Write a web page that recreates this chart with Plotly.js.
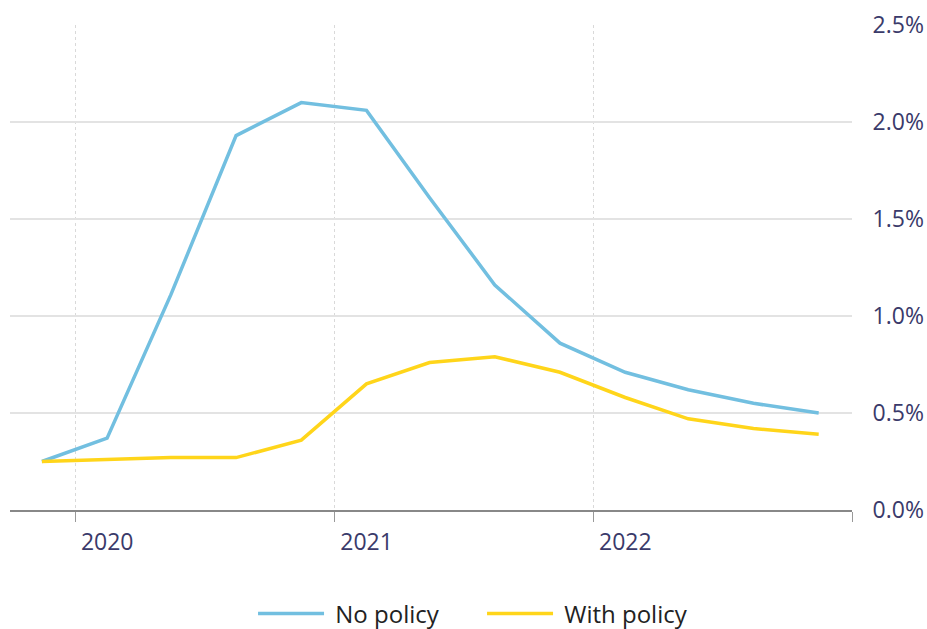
<!DOCTYPE html>
<html>
<head>
<meta charset="utf-8">
<script src="https://cdn.plot.ly/plotly-3.0.1.min.js"></script>
<style>html,body{margin:0;padding:0;background:#fff;}#chart{width:927px;height:629px;}</style>
</head>
<body>
<div id="chart"></div>
<script>
const dates = ['2019-11-15','2020-02-15','2020-05-15','2020-08-15','2020-11-15','2021-02-15','2021-05-15','2021-08-15','2021-11-15','2022-02-15','2022-05-15','2022-08-15','2022-11-15'];
const noPolicy = [0.25,0.37,1.11,1.93,2.10,2.06,1.61,1.16,0.86,0.71,0.62,0.55,0.50];
const withPolicy = [0.25,0.26,0.27,0.27,0.36,0.65,0.76,0.79,0.71,0.58,0.47,0.42,0.39];
const seriesNames = ['No policy', 'With policy'];
const xTickVals = ['2020-01-01','2021-01-01','2022-01-01','2023-01-01'];
const xTickText = ['2020','2021','2022',''];
const yTickVals = [0,0.5,1,1.5,2,2.5];
const yTickText = ['0.0%','0.5%','1.0%','1.5%','2.0%','2.5%'];

const traces = [
  {x: dates, y: noPolicy, name: '\u00a0' + seriesNames[0], type: 'scatter', mode: 'lines',
   line: {color: '#72bfe0', width: 3.5}},
  {x: dates, y: withPolicy, name: '\u00a0' + seriesNames[1], type: 'scatter', mode: 'lines',
   line: {color: '#ffd51a', width: 3.5}}
];
const layout = {
  width: 927, height: 629,
  margin: {l: 10, r: 75, t: 25, b: 119},
  paper_bgcolor: '#fff', plot_bgcolor: '#fff',
  font: {family: '"Open Sans", sans-serif', color: '#3a3a6a'},
  showlegend: true,
  legend: {orientation: 'h', x: 0.52, xanchor: 'center', xref: 'container',
           y: 0.024, yanchor: 'middle', yref: 'container',
           font: {size: 24, color: '#222'}, itemwidth: 66, entrywidth: 148},
  xaxis: {type: 'date', range: ['2019-10-01','2023-01-01'],
          tickmode: 'array', tickvals: xTickVals, ticktext: xTickText,
          showgrid: true, gridcolor: '#d9d9d9', griddash: 'dot', gridwidth: 1,
          showline: true, linecolor: '#888', linewidth: 2,
          ticks: 'outside', ticklen: 10, tickcolor: '#999', tickwidth: 1,
          ticklabelshift: 32,
          tickfont: {size: 23, color: '#3a3a6a'}, zeroline: false, fixedrange: true},
  yaxis: {side: 'right', range: [0, 2.5], tickmode: 'array', tickvals: yTickVals, ticktext: yTickText,
          showgrid: true, gridcolor: '#e3e3e3', gridwidth: 2, zeroline: false,
          showline: false, ticks: 'outside', ticklen: 15, tickcolor: 'rgba(0,0,0,0)',
          tickfont: {size: 23, color: '#3a3a6a'}, fixedrange: true}
};
Plotly.newPlot('chart', traces, layout, {displayModeBar: false, staticPlot: true});
</script>
</body>
</html>
